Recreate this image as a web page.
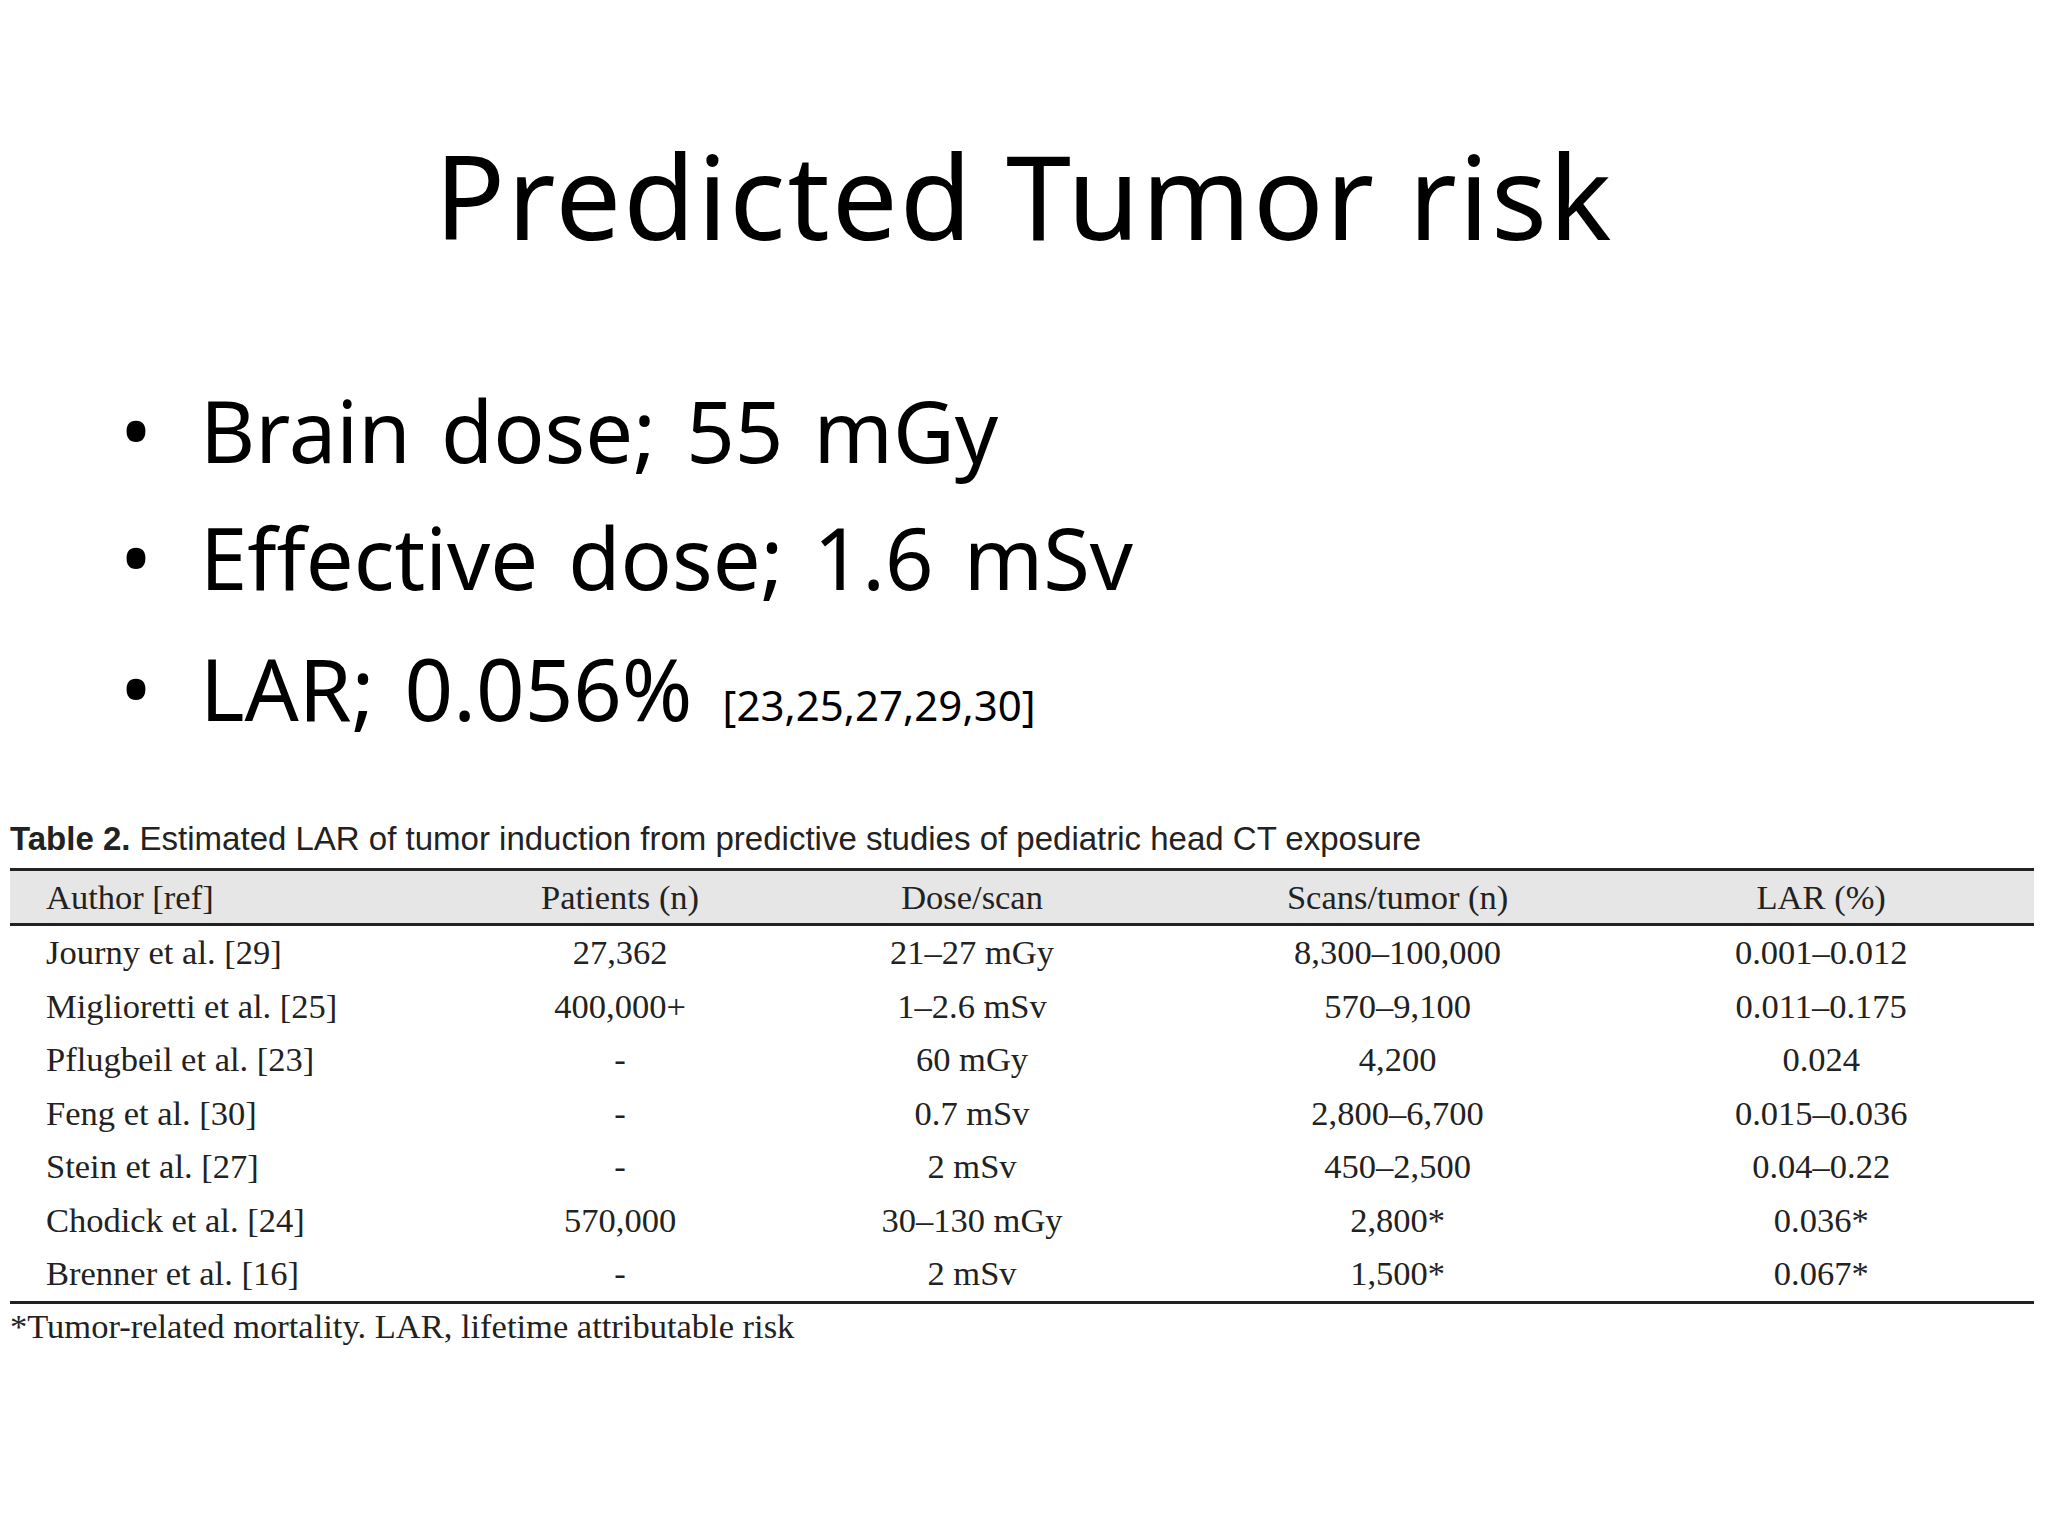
<!DOCTYPE html>
<html><head><meta charset="utf-8">
<script src="https://cdn.jsdelivr.net/npm/chart.js@4"></script>
<style>
body{margin:0;width:2048px;height:1536px;background:#fff;position:relative;overflow:hidden;font-family:"Noto Sans",sans-serif;}
.t{position:absolute;white-space:nowrap;}
#title{left:0;width:2048px;text-align:center;top:115px;font-size:117px;letter-spacing:2px;color:#000;}
.b{font-size:85px;left:120px;color:#000;word-spacing:8px;}
.b span.d{display:inline-block;width:80px;}
#cap{left:10px;top:820px;font-size:33px;font-family:Arial,"Liberation Sans",sans-serif;color:#222;}
#tbl{position:absolute;left:10px;top:868px;width:2024px;border-collapse:collapse;font-family:"Liberation Serif",serif;font-size:34.5px;color:#222;table-layout:fixed;}
#tbl th{background:#e6e6e6;font-weight:normal;height:52px;border-top:3px solid #222;border-bottom:3px solid #222;padding:0;}
#tbl td{height:53.5px;padding:0;text-align:center;}
#tbl tr:last-child td{border-bottom:3px solid #222;}
#tbl .a{text-align:left;padding-left:36px;}
#foot{left:10px;top:1307px;font-family:"Liberation Serif",serif;font-size:34.5px;color:#222;}
</style></head><body>
<div class="t" id="title">Predicted Tumor risk</div>
<div id="bul"></div>
<div class="t" id="cap"><b>Table 2.</b> Estimated LAR of tumor induction from predictive studies of pediatric head CT exposure</div>
<table id="tbl"><thead><tr id="hd"></tr></thead><tbody id="bd"></tbody></table>
<div class="t" id="foot">*Tumor-related mortality. LAR, lifetime attributable risk</div>
<script>
const bullets=["Brain dose; 55 mGy","Effective dose; 1.6 mSv","LAR; 0.056%"];
const bulletNote=["","","[23,25,27,29,30]"];
const headers=["Author [ref]","Patients (n)","Dose/scan","Scans/tumor (n)","LAR (%)"];
const authors=["Journy et al. [29]","Miglioretti et al. [25]","Pflugbeil et al. [23]","Feng et al. [30]","Stein et al. [27]","Chodick et al. [24]","Brenner et al. [16]"];
const patients=["27,362","400,000+","-","-","-","570,000","-"];
const doses=["21–27 mGy","1–2.6 mSv","60 mGy","0.7 mSv","2 mSv","30–130 mGy","2 mSv"];
const scans=["8,300–100,000","570–9,100","4,200","2,800–6,700","450–2,500","2,800*","1,500*"];
const lar=["0.001–0.012","0.011–0.175","0.024","0.015–0.036","0.04–0.22","0.036*","0.067*"];
const tops=[372,499,630];
const bul=document.getElementById('bul');
bullets.forEach((b,i)=>{const d=document.createElement('div');d.className='t b';d.style.top=tops[i]+'px';
d.innerHTML='<span class="d">•</span>'+b+(bulletNote[i]?' <span style="font-size:42px;word-spacing:0">'+bulletNote[i]+'</span>':'');bul.appendChild(d);});
const widths=["22%","13.8%","21.6%","21.2%","21.4%"];
document.getElementById('hd').innerHTML=headers.map((h,i)=>`<th class="${i?'':'a'}" style="width:${widths[i]}">${h}</th>`).join('');
document.getElementById('bd').innerHTML=authors.map((a,i)=>`<tr><td class="a">${a}</td><td>${patients[i]}</td><td>${doses[i]}</td><td>${scans[i]}</td><td>${lar[i]}</td></tr>`).join('');
</script>
</body></html>
